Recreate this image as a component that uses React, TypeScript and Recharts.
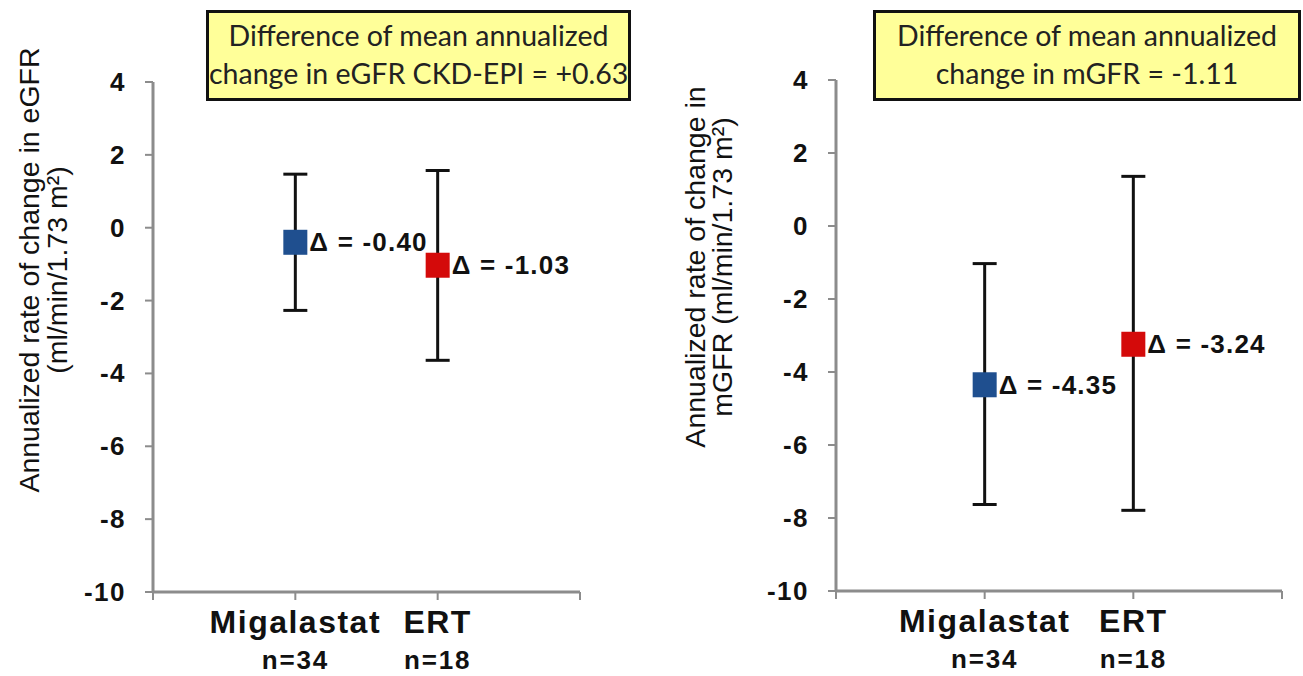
import React from "react";
import { ComposedChart, Scatter, XAxis, YAxis, ErrorBar } from "recharts";

const groups = ["Migalastat", "ERT"];
const groupSizes = ["n=34", "n=18"];
const groupColors = ["#1f4f8f", "#d40a0a"];
const yTicks = [-10, -8, -6, -4, -2, 0, 2, 4];
const xTicks = [0, 1, 2, 3];

// eGFR CKD-EPI panel
const egfrMeans = [-0.4, -1.03];
const egfrUpper = [1.47, 1.57];
const egfrLower = [-2.27, -3.64];

// mGFR panel
const mgfrMeans = [-4.35, -3.24];
const mgfrUpper = [-1.03, 1.36];
const mgfrLower = [-7.63, -7.79];

const ARIAL = '"Liberation Sans", Arial, sans-serif';
const BOX_FONT = 'Lato, "Open Sans", sans-serif';

function buildRows(means: number[], upper: number[], lower: number[]) {
  return groups.map((g, i) => ({
    x: i + 1,
    y: means[i],
    err: [means[i] - lower[i], upper[i] - means[i]],
    color: groupColors[i],
    label: `Δ = ${means[i].toFixed(2)}`,
  }));
}

const Marker = (props: any) => {
  const { cx, cy, payload } = props;
  return (
    <g>
      <rect x={cx - 12} y={cy - 12.5} width={24} height={25} fill={payload.color} />
      <text
        x={cx + 14}
        y={cy + 9}
        fontFamily={ARIAL}
        fontWeight={700}
        fontSize={26}
        letterSpacing={1.2}
        fill="#111"
      >
        {payload.label}
      </text>
    </g>
  );
};

const CategoryTick = (props: any) => {
  const { x, y, payload } = props;
  const i = payload.value - 1;
  if (i < 0 || i >= groups.length) return null;
  return (
    <g fontFamily={ARIAL} fontWeight={700} fill="#111" textAnchor="middle">
      <text x={x} y={y + 33} fontSize={32} letterSpacing={1.5}>
        {groups[i]}
      </text>
      <text x={x} y={y + 69} fontSize={26} letterSpacing={1.8}>
        {groupSizes[i]}
      </text>
    </g>
  );
};

const ValueTick = (props: any) => {
  const { x, y, payload } = props;
  return (
    <text
      x={x}
      y={y + 9}
      textAnchor="end"
      fontFamily={ARIAL}
      fontWeight={700}
      fontSize={26}
      letterSpacing={1.5}
      fill="#111"
    >
      {payload.value}
    </text>
  );
};

interface PanelProps {
  left: number;
  width: number;
  margin: { top: number; right: number; bottom: number; left: number };
  rows: any[];
  titleLines: string[];
  titleX: number[];
  titleY: number;
  boxLines: string[];
  box: { left: number; width: number };
}

function Panel({ left, width, margin, rows, titleLines, titleX, titleY, boxLines, box }: PanelProps) {
  const axisStroke = "#8c8c8c";
  return (
    <>
      <div style={{ position: "absolute", left, top: 0 }}>
        <ComposedChart width={width} height={676} data={rows} margin={margin}>
          <XAxis
            type="number"
            dataKey="x"
            domain={[0, 3]}
            ticks={xTicks}
            interval={0}
            height={80}
            tickSize={8}
            tickMargin={0}
            axisLine={{ stroke: axisStroke, strokeWidth: 3 }}
            tickLine={{ stroke: axisStroke, strokeWidth: 2 }}
            tick={<CategoryTick />}
          />
          <YAxis
            type="number"
            dataKey="y"
            domain={[-10, 4]}
            ticks={yTicks}
            interval={0}
            width={60}
            tickSize={8}
            tickMargin={19}
            axisLine={{ stroke: axisStroke, strokeWidth: 3 }}
            tickLine={{ stroke: axisStroke, strokeWidth: 2 }}
            tick={<ValueTick />}
            label={{
              content: () => (
                <g fontFamily={ARIAL} fontSize={28.5} fill="#111" textAnchor="middle">
                  {titleLines.map((t, k) => (
                    <text
                      key={k}
                      x={titleX[k]}
                      y={titleY}
                      dy="0.36em"
                      transform={`rotate(-90, ${titleX[k]}, ${titleY})`}
                    >
                      {t}
                    </text>
                  ))}
                </g>
              ),
            }}
          />
          <Scatter dataKey="y" isAnimationActive={false} shape={<Marker />}>
            <ErrorBar
              dataKey="err"
              direction="y"
              width={12}
              stroke="#111"
              strokeWidth={3}
              isAnimationActive={false}
            />
          </Scatter>
        </ComposedChart>
      </div>
      <div
        style={{
          position: "absolute",
          left: box.left,
          top: 10,
          width: box.width,
          height: 91,
          boxSizing: "border-box",
          background: "#ffff99",
          border: "3px solid #111",
          fontFamily: BOX_FONT,
          fontSize: 28.5,
          color: "#222",
          textAlign: "center",
          paddingTop: 3,
          lineHeight: "38px",
          whiteSpace: "nowrap",
        }}
      >
        {boxLines.map((l, k) => (
          <div key={k}>{l}</div>
        ))}
      </div>
    </>
  );
}

export default function App() {
  const egfrRows = buildRows(egfrMeans, egfrUpper, egfrLower);
  const mgfrRows = buildRows(mgfrMeans, mgfrUpper, mgfrLower);
  return (
    <div
      style={{
        position: "absolute",
        left: 0,
        top: 0,
        width: 1303,
        height: 676,
        overflow: "hidden",
        background: "#fff",
      }}
    >
      <Panel
        left={0}
        width={650}
        margin={{ top: 82, right: 70, bottom: 4, left: 93 }}
        rows={egfrRows}
        titleLines={["Annualized rate of change in eGFR", "(ml/min/1.73 m²)"]}
        titleX={[29, 57]}
        titleY={270}
        boxLines={["Difference of mean annualized", "change in eGFR CKD-EPI = +0.63"]}
        box={{ left: 206, width: 425 }}
      />
      <Panel
        left={650}
        width={653}
        margin={{ top: 80, right: 21, bottom: 5, left: 126 }}
        rows={mgfrRows}
        titleLines={["Annualized rate of change in", "mGFR (ml/min/1.73 m²)"]}
        titleX={[45, 72]}
        titleY={267}
        boxLines={["Difference of mean annualized", "change in mGFR = -1.11"]}
        box={{ left: 873, width: 428 }}
      />
    </div>
  );
}
